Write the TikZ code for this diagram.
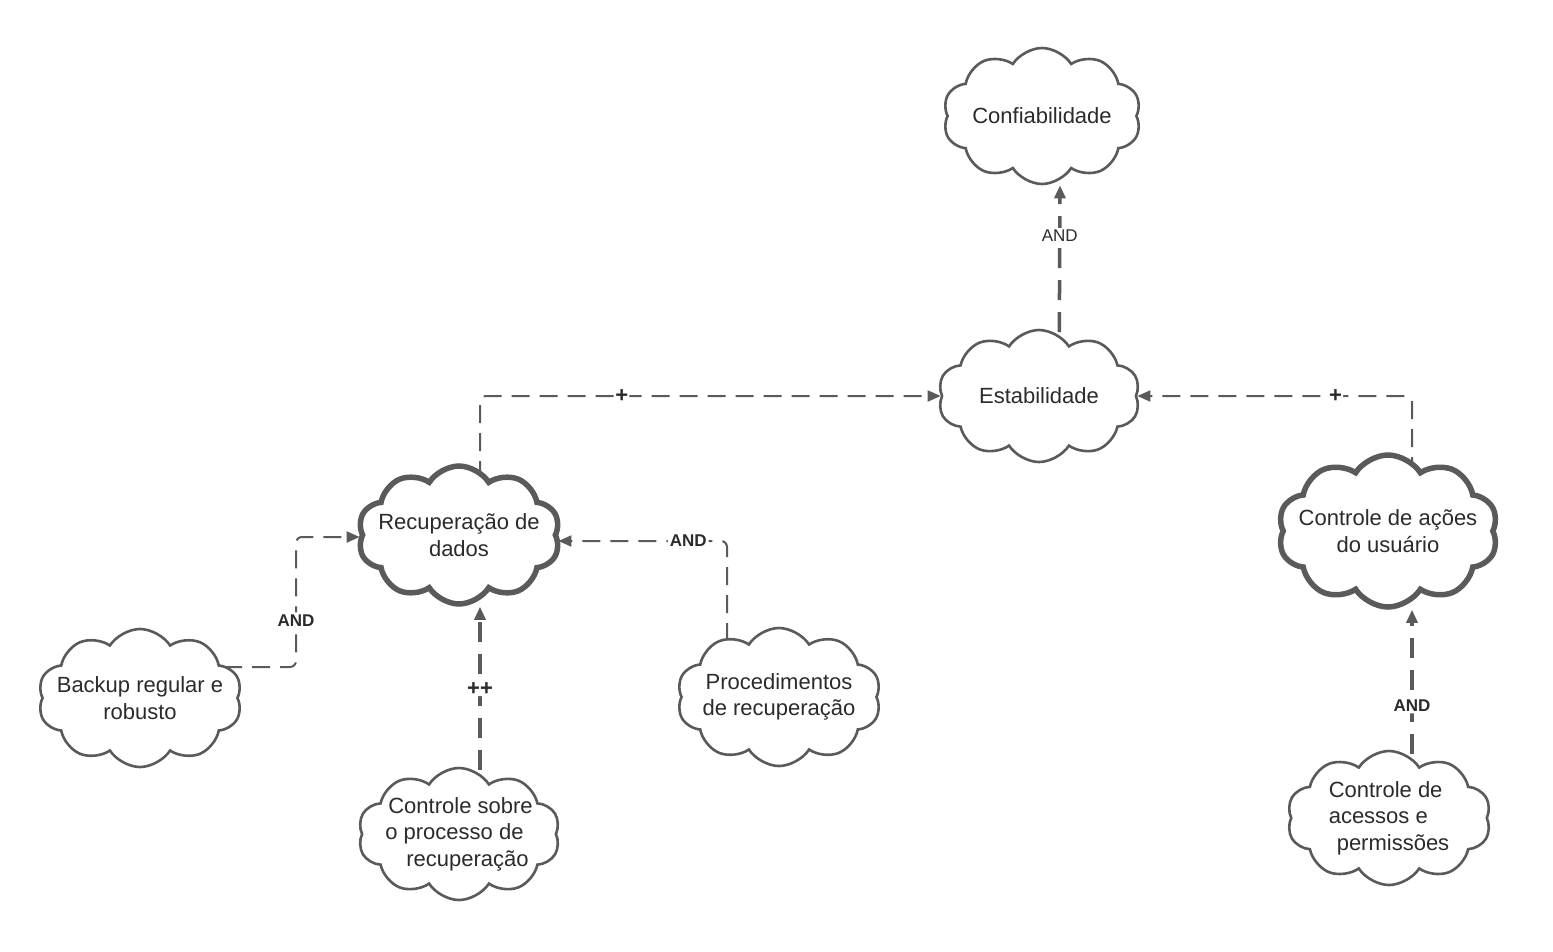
\documentclass[tikz,border=0pt]{standalone}
\usepackage{fontspec}
\setmainfont{Liberation Sans}
\usetikzlibrary{shapes.symbols,arrows.meta,backgrounds}
\definecolor{linegray}{HTML}{5A5A5A}
\definecolor{textgray}{HTML}{2B2B2B}
\tikzset{
	goal/.style={cloud, cloud puffs=10, cloud puff arc=115, cloud ignores aspect,
		draw=linegray, line width=2.6pt, fill=white, text=textgray, inner sep=0pt,
		inner xsep=-16pt, minimum width=200pt, minimum height=132pt, align=center,
		font=\fontsize{22}{26.5}\selectfont},
	maingoal/.style={goal, line width=5.5pt},
	link/.style={draw=linegray, line width=2pt, dash pattern=on 18pt off 10pt,
		rounded corners=6pt, -{Triangle[length=13pt,width=11pt]}},
	heavylink/.style={link, line width=3.5pt, dash pattern=on 20pt off 12pt},
	tag/.style={fill=white, text=textgray, inner sep=2pt,
		font=\bfseries\fontsize{17}{17}\selectfont},
	bigtag/.style={tag, inner sep=1pt, font=\bfseries\fontsize{22}{22}\selectfont},
}

\begin{document}
\begin{tikzpicture}[x=1pt,y=-1pt]
	\useasboundingbox (0,0) rectangle (1553,951);
	% goals
	\node[goal, minimum width=198pt, minimum height=136pt] (conf) at (1042,116) {Confiabilidade};
	\node[goal, minimum width=202pt, minimum height=132pt] (estab) at (1039,396) {Estabilidade};
	\node[maingoal, minimum width=202pt, minimum height=138pt] (recup) at (459,535) {Recupera\c{c}\~ao de\\dados};
	\node[maingoal, minimum width=220pt, minimum height=152pt] (acoes) at (1388,531) {Controle de a\c{c}\~oes\\do usu\'ario};
	\node[goal, minimum width=204pt, minimum height=138pt] (backup) at (140,698) {Backup regular e\\robusto};
	\node[goal, minimum width=202pt, minimum height=132pt, align=left] (ctrlrec) at (459,834)
		{\hspace{3pt}Controle sobre\\o processo de\\\hspace{21pt}recupera\c{c}\~ao};
	\node[goal, minimum width=204pt, minimum height=138pt] (proc) at (779,697) {Procedimentos\\de recupera\c{c}\~ao};
	\node[goal, minimum width=204pt, minimum height=134pt, align=left] (acesso) at (1389,818)
		{Controle de\\acessos e\\\hspace{8pt}permiss\~oes};
	% links
	\begin{scope}[on background layer]
		\draw[heavylink] ([xshift=20pt]estab.center) -- ([xshift=18pt]conf.south)
			node[tag, pos=.76, font=\fontsize{17}{17}\selectfont] {AND};
		\draw[link] ([xshift=21pt]recup.center) |- (estab.west) node[bigtag, pos=.654] {+};
		\draw[link] ([xshift=24pt]acoes.center) |- (estab.east) node[bigtag, pos=.639] {+};
		\draw[link] ([yshift=31pt]backup.center) -- ++(156,0) |- ([yshift=-2pt]recup.west)
			node[tag, pos=.18] {AND};
		\draw[heavylink] ([xshift=21pt]ctrlrec.center) -- ([xshift=21pt]recup.south)
			node[bigtag, pos=.64] {++};
		\draw[link] ([xshift=-52pt]proc.center) |- ([yshift=-6pt]recup.east)
			node[tag, pos=.615] {AND};
		\draw[heavylink] ([xshift=23pt]acesso.center) -- ([xshift=24pt]acoes.south)
			node[tag, pos=.54] {AND};
	\end{scope}
\end{tikzpicture}
\end{document}
